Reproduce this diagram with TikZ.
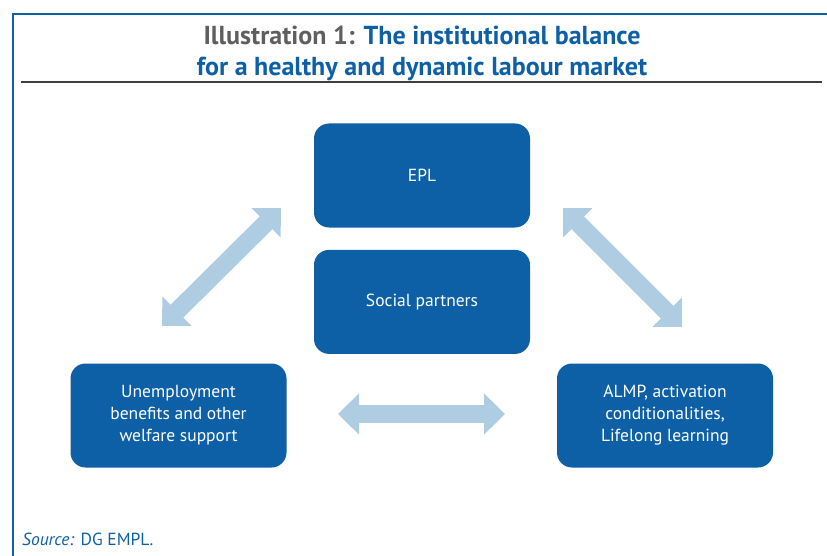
\documentclass[tikz,border=0pt]{standalone}
\usepackage{fontspec}
\setmainfont{PT Sans}
\usetikzlibrary{arrows.meta,positioning}
\definecolor{EUBlue}{HTML}{0E60A6}
\definecolor{ArrowBlue}{HTML}{AECDE3}
\definecolor{TitleGray}{HTML}{5F5F5F}
\definecolor{RuleGray}{HTML}{404040}
\tikzset{
  caja/.style    = {fill=EUBlue, rounded corners=15pt, text=white, align=center,
                    font=\fontsize{17.5}{22}\selectfont, minimum width=216pt,
                    minimum height=104pt, inner sep=0pt},
  flechaw/.style = {ArrowBlue, line width=18pt,
                    {Triangle[width=40pt,length=21pt]}-{Triangle[width=40pt,length=21pt]}},
  titulo/.style  = {font=\fontsize{26}{31}\selectfont\bfseries, align=center, text=EUBlue},
  marco/.style   = {EUBlue, line width=1.5pt},
  fuente/.style  = {font=\fontsize{17.5}{20}\selectfont, text=EUBlue, inner sep=0pt},
}
\begin{document}
\begin{tikzpicture}[x=1pt,y=-1pt, node distance=22pt and 30pt]
  \useasboundingbox (0,0) rectangle (827,556);
  \draw[marco] (13,556) -- (13,14) -- (827,14);
  \node[titulo] (title) at (422,53) {\textcolor{TitleGray}{Illustration 1:} The institutional balance\\for a healthy and dynamic labour market};
  \draw[RuleGray, line width=1.3pt] (21,82) -- (822,82);
  % boxes
  \node[caja] (epl) at (422,175.5) {EPL};
  \node[caja, below=22pt of epl] (social) {Social partners};
  \node[caja] (benefits) at (178.5,415.5) {Unemployment\\benefits and other\\welfare support};
  \node[caja] (almp) at (665,415.5) {ALMP, activation\\conditionalities,\\Lifelong learning};
  % arrows
  \coordinate (izqA) at (162,326);
  \coordinate (izqB) at (281,208);
  \coordinate (derA) at (563,208);
  \coordinate (derB) at (682,327);
  \coordinate (horA) at (338,414);
  \coordinate (horB) at (505,414);
  \draw[flechaw] (izqA) -- (izqB);
  \draw[flechaw] (derA) -- (derB);
  \draw[flechaw] (horA) -- (horB);
  \node[fuente, anchor=base west] (src) at (22,545) {\textit{Source:} DG EMPL.};
\end{tikzpicture}
\end{document}
